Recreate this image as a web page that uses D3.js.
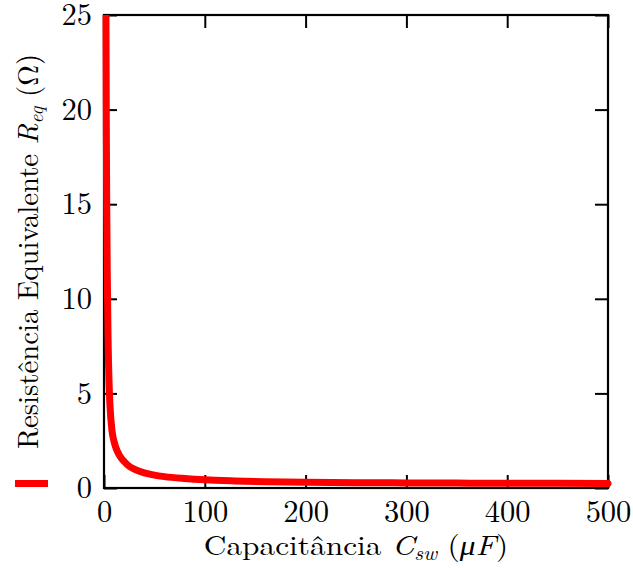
<!DOCTYPE html>
<html><head><meta charset="utf-8">
<script src="https://cdn.jsdelivr.net/npm/d3@7"></script>
<style>body{margin:0;background:#fff}</style>
</head><body>
<svg id="c" width="633" height="568"></svg>
<script>
// Data
const capacitance = [1.8, 2, 2.3, 2.7, 3.2, 4, 5, 6, 8, 10, 12, 15, 20, 25, 30, 40, 50, 60, 80, 100, 130, 160, 200, 250, 300, 350, 400, 450, 500];
const resistance  = [27, 24, 19, 15, 11.5, 8, 5.6, 4.3, 3.0, 2.45, 2.1, 1.75, 1.4, 1.15, 1.0, 0.8, 0.68, 0.6, 0.5, 0.43, 0.37, 0.33, 0.3, 0.28, 0.27, 0.26, 0.25, 0.245, 0.24];
const xTicks = [0, 100, 200, 300, 400, 500];
const yTicks = [0, 5, 10, 15, 20, 25];

const svg = d3.select("#c");
const L = 104, R = 608, T = 15, B = 488;
const font = '"Latin Modern Roman", "Liberation Serif", serif';
const x = d3.scaleLinear().domain([0, 500]).range([L, R]);
const y = d3.scaleLinear().domain([0, 25]).range([B, T]);

const tk = 13;
const gx = svg.append("g").attr("transform", `translate(0,${B})`)
  .call(d3.axisBottom(x).tickValues(xTicks).tickSize(-tk).tickPadding(12).tickFormat(d3.format("d")));
const gxt = svg.append("g").attr("transform", `translate(0,${T})`)
  .call(d3.axisTop(x).tickValues(xTicks).tickSize(-tk).tickFormat(""));
const gy = svg.append("g").attr("transform", `translate(${L},0)`)
  .call(d3.axisLeft(y).tickValues(yTicks).tickSize(-tk).tickPadding(12).tickFormat(d3.format("d")));
const gyr = svg.append("g").attr("transform", `translate(${R},0)`)
  .call(d3.axisRight(y).tickValues(yTicks).tickSize(-tk).tickFormat(""));
[gx, gxt, gy, gyr].forEach(g => {
  g.attr("font-family", null);
  g.select(".domain").remove();
  g.selectAll(".tick line").attr("stroke", "#000").attr("stroke-width", 2);
  g.selectAll(".tick text").style("font-family", font).style("font-size", "30.5px").attr("fill", "#000");
});

svg.append("rect").attr("x", L).attr("y", T).attr("width", R - L).attr("height", B - T)
  .attr("fill", "none").attr("stroke", "#000").attr("stroke-width", 2.2);

svg.append("clipPath").attr("id", "clip").append("rect")
  .attr("x", 0).attr("y", T).attr("width", 633).attr("height", 568 - T);
const pts = capacitance.map((c, i) => [c, resistance[i]]);
svg.append("path").datum(pts)
  .attr("clip-path", "url(#clip)")
  .attr("fill", "none").attr("stroke", "#ff0000").attr("stroke-width", 7)
  .attr("stroke-linecap", "round").attr("stroke-linejoin", "round")
  .attr("d", d3.line().x(d => x(d[0])).y(d => y(d[1])).curve(d3.curveMonotoneX));

const xl = svg.append("text").attr("transform", `translate(${(L + R) / 2},555) scale(1.12,1)`)
  .attr("text-anchor", "middle").style("font-family", font).style("font-size", "28px").attr("fill", "#000");
xl.append("tspan").text("Capacitância ");
xl.append("tspan").style("font-style", "italic").text("C");
xl.append("tspan").style("font-style", "italic").style("font-size", "19px").attr("dy", 5).text("sw");
xl.append("tspan").attr("dy", -5).text(" (");
xl.append("tspan").style("font-style", "italic").text("μF");
xl.append("tspan").text(")");

const yl = svg.append("text").attr("transform", `translate(38,${(T + B) / 2}) rotate(-90)`)
  .attr("text-anchor", "middle").style("font-family", font).style("font-size", "28.7px").attr("fill", "#000");
yl.append("tspan").text("Resistência Equivalente ");
yl.append("tspan").style("font-style", "italic").text("R");
yl.append("tspan").style("font-style", "italic").style("font-size", "19.5px").attr("dy", 5).text("eq");
yl.append("tspan").attr("dy", -5).text(" (Ω)");

svg.append("line").attr("x1", 15).attr("x2", 48).attr("y1", 483.5).attr("y2", 483.5)
  .attr("stroke", "#ff0000").attr("stroke-width", 7);
</script>
</body></html>
